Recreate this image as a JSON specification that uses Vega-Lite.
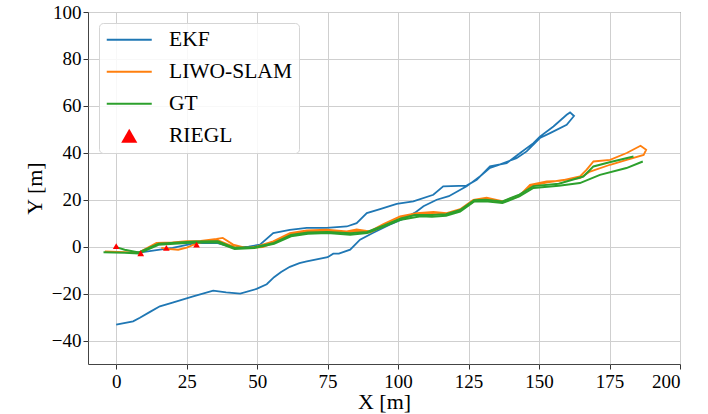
{
  "$schema": "https://vega.github.io/schema/vega-lite/v6.json",
  "width": 592,
  "height": 352,
  "autosize": {"type": "none"},
  "padding": {"left": 88, "top": 12, "right": 28, "bottom": 50},
  "background": "white",
  "config": {
    "font": "Liberation Serif",
    "view": {"stroke": "#444", "strokeWidth": 1},
    "axis": {
      "labelFont": "Liberation Serif", "labelFontSize": 19, "labelColor": "#000",
      "titleFont": "Liberation Serif", "titleFontSize": 22, "titleFontWeight": "normal", "titleColor": "#000",
      "gridColor": "#cfcfcf", "gridWidth": 1, "tickColor": "#333", "tickSize": 5, "domain": false
    },
    "legend": {"labelFont": "Liberation Serif"}
  },
  "datasets": {
    "paths": [
      {"s":"EKF","g":"e","i":0,"x":0,"y":-33.2},
      {"s":"EKF","g":"e","i":1,"x":6,"y":-31.8},
      {"s":"EKF","g":"e","i":2,"x":8.4,"y":-30.3},
      {"s":"EKF","g":"e","i":3,"x":12,"y":-27.8},
      {"s":"EKF","g":"e","i":4,"x":15.5,"y":-25.4},
      {"s":"EKF","g":"e","i":5,"x":20,"y":-23.8},
      {"s":"EKF","g":"e","i":6,"x":27,"y":-21.3},
      {"s":"EKF","g":"e","i":7,"x":34.4,"y":-18.7},
      {"s":"EKF","g":"e","i":8,"x":39,"y":-19.5},
      {"s":"EKF","g":"e","i":9,"x":44,"y":-20},
      {"s":"EKF","g":"e","i":10,"x":49.8,"y":-18},
      {"s":"EKF","g":"e","i":11,"x":53.4,"y":-16},
      {"s":"EKF","g":"e","i":12,"x":56,"y":-13},
      {"s":"EKF","g":"e","i":13,"x":58.5,"y":-10.8},
      {"s":"EKF","g":"e","i":14,"x":61.6,"y":-8.6},
      {"s":"EKF","g":"e","i":15,"x":65,"y":-7},
      {"s":"EKF","g":"e","i":16,"x":67.6,"y":-6.3},
      {"s":"EKF","g":"e","i":17,"x":75,"y":-4.5},
      {"s":"EKF","g":"e","i":18,"x":77,"y":-3},
      {"s":"EKF","g":"e","i":19,"x":79,"y":-3},
      {"s":"EKF","g":"e","i":20,"x":83,"y":-1.3},
      {"s":"EKF","g":"e","i":21,"x":86.5,"y":3},
      {"s":"EKF","g":"e","i":22,"x":91,"y":5.8},
      {"s":"EKF","g":"e","i":23,"x":97,"y":9.4},
      {"s":"EKF","g":"e","i":24,"x":103,"y":12.5},
      {"s":"EKF","g":"e","i":25,"x":106,"y":14.5},
      {"s":"EKF","g":"e","i":26,"x":109,"y":17.2},
      {"s":"EKF","g":"e","i":27,"x":113.7,"y":20},
      {"s":"EKF","g":"e","i":28,"x":118,"y":21.5},
      {"s":"EKF","g":"e","i":29,"x":124.3,"y":25.7},
      {"s":"EKF","g":"e","i":30,"x":129,"y":29.9},
      {"s":"EKF","g":"e","i":31,"x":132.6,"y":33.6},
      {"s":"EKF","g":"e","i":32,"x":136,"y":35},
      {"s":"EKF","g":"e","i":33,"x":142,"y":37.7},
      {"s":"EKF","g":"e","i":34,"x":145.6,"y":40.6},
      {"s":"EKF","g":"e","i":35,"x":150.3,"y":46.3},
      {"s":"EKF","g":"e","i":36,"x":153.9,"y":48.4},
      {"s":"EKF","g":"e","i":37,"x":159.8,"y":51.9},
      {"s":"EKF","g":"e","i":38,"x":162.4,"y":55.7},
      {"s":"EKF","g":"e","i":39,"x":161,"y":57.2},
      {"s":"EKF","g":"e","i":40,"x":159.8,"y":56.2},
      {"s":"EKF","g":"e","i":41,"x":155.1,"y":51.2},
      {"s":"EKF","g":"e","i":42,"x":150.3,"y":46.9},
      {"s":"EKF","g":"e","i":43,"x":148,"y":44.1},
      {"s":"EKF","g":"e","i":44,"x":143.3,"y":39.9},
      {"s":"EKF","g":"e","i":45,"x":138.5,"y":35.6},
      {"s":"EKF","g":"e","i":46,"x":132.6,"y":34.2},
      {"s":"EKF","g":"e","i":47,"x":127.9,"y":28.5},
      {"s":"EKF","g":"e","i":48,"x":124.3,"y":26},
      {"s":"EKF","g":"e","i":49,"x":116,"y":25.7},
      {"s":"EKF","g":"e","i":50,"x":112.5,"y":22.1},
      {"s":"EKF","g":"e","i":51,"x":105.4,"y":19.3},
      {"s":"EKF","g":"e","i":52,"x":99.5,"y":18.2},
      {"s":"EKF","g":"e","i":53,"x":93.6,"y":16},
      {"s":"EKF","g":"e","i":54,"x":88.9,"y":14.3},
      {"s":"EKF","g":"e","i":55,"x":85.3,"y":10},
      {"s":"EKF","g":"e","i":56,"x":81.8,"y":8.6},
      {"s":"EKF","g":"e","i":57,"x":74.7,"y":8},
      {"s":"EKF","g":"e","i":58,"x":67.6,"y":8},
      {"s":"EKF","g":"e","i":59,"x":61.6,"y":7.2},
      {"s":"EKF","g":"e","i":60,"x":55.7,"y":5.8},
      {"s":"EKF","g":"e","i":61,"x":51,"y":0.9},
      {"s":"EKF","g":"e","i":62,"x":47,"y":0},
      {"s":"EKF","g":"e","i":63,"x":42,"y":-0.5},
      {"s":"EKF","g":"e","i":64,"x":36,"y":1.5},
      {"s":"EKF","g":"e","i":65,"x":28,"y":1.5},
      {"s":"EKF","g":"e","i":66,"x":20,"y":-0.5},
      {"s":"EKF","g":"e","i":67,"x":15.5,"y":-1.3},
      {"s":"EKF","g":"e","i":68,"x":10,"y":-2.2},
      {"s":"EKF","g":"e","i":69,"x":6,"y":-2.4},

      {"s":"LIWO-SLAM","g":"o","i":0,"x":-4,"y":-2},
      {"s":"LIWO-SLAM","g":"o","i":1,"x":3,"y":-2.3},
      {"s":"LIWO-SLAM","g":"o","i":2,"x":8,"y":-2.5},
      {"s":"LIWO-SLAM","g":"o","i":3,"x":14.3,"y":1.6},
      {"s":"LIWO-SLAM","g":"o","i":4,"x":20,"y":1.8},
      {"s":"LIWO-SLAM","g":"o","i":5,"x":25,"y":2.3},
      {"s":"LIWO-SLAM","g":"o","i":6,"x":30,"y":2.5},
      {"s":"LIWO-SLAM","g":"o","i":7,"x":35.6,"y":3.3},
      {"s":"LIWO-SLAM","g":"o","i":8,"x":37.8,"y":3.7},
      {"s":"LIWO-SLAM","g":"o","i":9,"x":41.5,"y":0.9},
      {"s":"LIWO-SLAM","g":"o","i":10,"x":46.3,"y":-0.6},
      {"s":"LIWO-SLAM","g":"o","i":11,"x":50,"y":0.1},
      {"s":"LIWO-SLAM","g":"o","i":12,"x":55.7,"y":2.3},
      {"s":"LIWO-SLAM","g":"o","i":13,"x":61.6,"y":5.8},
      {"s":"LIWO-SLAM","g":"o","i":14,"x":67.6,"y":6.9},
      {"s":"LIWO-SLAM","g":"o","i":15,"x":74.7,"y":7.2},
      {"s":"LIWO-SLAM","g":"o","i":16,"x":81.8,"y":6.5},
      {"s":"LIWO-SLAM","g":"o","i":17,"x":85.3,"y":7.4},
      {"s":"LIWO-SLAM","g":"o","i":18,"x":90,"y":6.5},
      {"s":"LIWO-SLAM","g":"o","i":19,"x":94.8,"y":9.6},
      {"s":"LIWO-SLAM","g":"o","i":20,"x":100.7,"y":12.9},
      {"s":"LIWO-SLAM","g":"o","i":21,"x":106.6,"y":14.3},
      {"s":"LIWO-SLAM","g":"o","i":22,"x":112.5,"y":14.8},
      {"s":"LIWO-SLAM","g":"o","i":23,"x":117.2,"y":14.3},
      {"s":"LIWO-SLAM","g":"o","i":24,"x":122,"y":16},
      {"s":"LIWO-SLAM","g":"o","i":25,"x":126.7,"y":20},
      {"s":"LIWO-SLAM","g":"o","i":26,"x":131.4,"y":20.9},
      {"s":"LIWO-SLAM","g":"o","i":27,"x":137.3,"y":19.3},
      {"s":"LIWO-SLAM","g":"o","i":28,"x":143.3,"y":22.1},
      {"s":"LIWO-SLAM","g":"o","i":29,"x":146.8,"y":26.4},
      {"s":"LIWO-SLAM","g":"o","i":30,"x":152.7,"y":27.8},
      {"s":"LIWO-SLAM","g":"o","i":31,"x":157.4,"y":28},
      {"s":"LIWO-SLAM","g":"o","i":32,"x":164.5,"y":29.9},
      {"s":"LIWO-SLAM","g":"o","i":33,"x":166.9,"y":32.8},
      {"s":"LIWO-SLAM","g":"o","i":34,"x":169.3,"y":36.3},
      {"s":"LIWO-SLAM","g":"o","i":35,"x":175.2,"y":37},
      {"s":"LIWO-SLAM","g":"o","i":36,"x":181.1,"y":39.9},
      {"s":"LIWO-SLAM","g":"o","i":37,"x":186,"y":43},
      {"s":"LIWO-SLAM","g":"o","i":38,"x":188,"y":41.3},
      {"s":"LIWO-SLAM","g":"o","i":39,"x":187.1,"y":39.1},
      {"s":"LIWO-SLAM","g":"o","i":40,"x":181.1,"y":37},
      {"s":"LIWO-SLAM","g":"o","i":41,"x":175.2,"y":34.9},
      {"s":"LIWO-SLAM","g":"o","i":42,"x":168.1,"y":32},
      {"s":"LIWO-SLAM","g":"o","i":43,"x":164.5,"y":29.2},
      {"s":"LIWO-SLAM","g":"o","i":44,"x":158,"y":28.3},
      {"s":"LIWO-SLAM","g":"o","i":45,"x":153,"y":27.4},
      {"s":"LIWO-SLAM","g":"o","i":46,"x":147,"y":25.8},
      {"s":"LIWO-SLAM","g":"o","i":47,"x":143,"y":21.6},
      {"s":"LIWO-SLAM","g":"o","i":48,"x":137,"y":18.8},
      {"s":"LIWO-SLAM","g":"o","i":49,"x":131,"y":20.2},
      {"s":"LIWO-SLAM","g":"o","i":50,"x":127,"y":19.4},
      {"s":"LIWO-SLAM","g":"o","i":51,"x":122,"y":15.3},
      {"s":"LIWO-SLAM","g":"o","i":52,"x":117,"y":13.8},
      {"s":"LIWO-SLAM","g":"o","i":53,"x":112,"y":14},
      {"s":"LIWO-SLAM","g":"o","i":54,"x":106,"y":13.7},
      {"s":"LIWO-SLAM","g":"o","i":55,"x":101,"y":12.2},
      {"s":"LIWO-SLAM","g":"o","i":56,"x":95,"y":8.8},
      {"s":"LIWO-SLAM","g":"o","i":57,"x":90,"y":6},
      {"s":"LIWO-SLAM","g":"o","i":58,"x":85,"y":6.6},
      {"s":"LIWO-SLAM","g":"o","i":59,"x":82,"y":6},
      {"s":"LIWO-SLAM","g":"o","i":60,"x":75,"y":6.7},
      {"s":"LIWO-SLAM","g":"o","i":61,"x":68,"y":6.3},
      {"s":"LIWO-SLAM","g":"o","i":62,"x":62,"y":5.2},
      {"s":"LIWO-SLAM","g":"o","i":63,"x":56,"y":1.7},
      {"s":"LIWO-SLAM","g":"o","i":64,"x":52,"y":-0.2},
      {"s":"LIWO-SLAM","g":"o","i":65,"x":48,"y":-0.4},
      {"s":"LIWO-SLAM","g":"o","i":66,"x":42,"y":-0.2},
      {"s":"LIWO-SLAM","g":"o","i":67,"x":36,"y":2.8},
      {"s":"LIWO-SLAM","g":"o","i":68,"x":30,"y":1.8},
      {"s":"LIWO-SLAM","g":"o","i":69,"x":27.5,"y":0.9},
      {"s":"LIWO-SLAM","g":"o","i":70,"x":25,"y":-0.4},
      {"s":"LIWO-SLAM","g":"o","i":71,"x":22,"y":-1.3},
      {"s":"LIWO-SLAM","g":"o","i":72,"x":19,"y":-1},
      {"s":"LIWO-SLAM","g":"o","i":73,"x":16,"y":-0.5},

      {"s":"GT","g":"gA","i":0,"x":-4.5,"y":-2.4},
      {"s":"GT","g":"gA","i":1,"x":3,"y":-2.6},
      {"s":"GT","g":"gA","i":2,"x":8,"y":-2.9},
      {"s":"GT","g":"gA","i":3,"x":15,"y":0.8},
      {"s":"GT","g":"gA","i":4,"x":22,"y":1.4},
      {"s":"GT","g":"gA","i":5,"x":28,"y":1.8},
      {"s":"GT","g":"gA","i":6,"x":36,"y":1.8},
      {"s":"GT","g":"gA","i":7,"x":42,"y":-1},
      {"s":"GT","g":"gA","i":8,"x":49,"y":-0.6},
      {"s":"GT","g":"gA","i":9,"x":56,"y":1.2},
      {"s":"GT","g":"gA","i":10,"x":62,"y":4.4},
      {"s":"GT","g":"gA","i":11,"x":68,"y":5.5},
      {"s":"GT","g":"gA","i":12,"x":75,"y":5.8},
      {"s":"GT","g":"gA","i":13,"x":83,"y":5.1},
      {"s":"GT","g":"gA","i":14,"x":89,"y":5.8},
      {"s":"GT","g":"gA","i":15,"x":95,"y":8.6},
      {"s":"GT","g":"gA","i":16,"x":101,"y":11.5},
      {"s":"GT","g":"gA","i":17,"x":108,"y":13},
      {"s":"GT","g":"gA","i":18,"x":112,"y":12.7},
      {"s":"GT","g":"gA","i":19,"x":117,"y":13.2},
      {"s":"GT","g":"gA","i":20,"x":122,"y":15},
      {"s":"GT","g":"gA","i":21,"x":127,"y":19.3},
      {"s":"GT","g":"gA","i":22,"x":131,"y":19.3},
      {"s":"GT","g":"gA","i":23,"x":137,"y":18.6},
      {"s":"GT","g":"gA","i":24,"x":143,"y":21.4},
      {"s":"GT","g":"gA","i":25,"x":148,"y":25},
      {"s":"GT","g":"gA","i":26,"x":157,"y":26},
      {"s":"GT","g":"gA","i":27,"x":164.5,"y":27.1},
      {"s":"GT","g":"gA","i":28,"x":171.6,"y":30.6},
      {"s":"GT","g":"gA","i":29,"x":181,"y":33.5},
      {"s":"GT","g":"gA","i":30,"x":186.8,"y":36.3},

      {"s":"GT","g":"gB","i":0,"x":183.5,"y":38.4},
      {"s":"GT","g":"gB","i":1,"x":175,"y":36},
      {"s":"GT","g":"gB","i":2,"x":169.3,"y":34.2},
      {"s":"GT","g":"gB","i":3,"x":165.7,"y":29.9},
      {"s":"GT","g":"gB","i":4,"x":157,"y":26.8},
      {"s":"GT","g":"gB","i":5,"x":148,"y":25.8},
      {"s":"GT","g":"gB","i":6,"x":143,"y":22.2},
      {"s":"GT","g":"gB","i":7,"x":137,"y":19.3},
      {"s":"GT","g":"gB","i":8,"x":131,"y":20},
      {"s":"GT","g":"gB","i":9,"x":127,"y":19.8},
      {"s":"GT","g":"gB","i":10,"x":122,"y":15.6},
      {"s":"GT","g":"gB","i":11,"x":117,"y":13.8},
      {"s":"GT","g":"gB","i":12,"x":112,"y":13.5},
      {"s":"GT","g":"gB","i":13,"x":106,"y":13.5},
      {"s":"GT","g":"gB","i":14,"x":101,"y":12},
      {"s":"GT","g":"gB","i":15,"x":95,"y":9},
      {"s":"GT","g":"gB","i":16,"x":89,"y":6.3},
      {"s":"GT","g":"gB","i":17,"x":83,"y":5.7},
      {"s":"GT","g":"gB","i":18,"x":75,"y":6.3},
      {"s":"GT","g":"gB","i":19,"x":68,"y":6},
      {"s":"GT","g":"gB","i":20,"x":62,"y":5},
      {"s":"GT","g":"gB","i":21,"x":56,"y":1.6},
      {"s":"GT","g":"gB","i":22,"x":49,"y":-0.2},
      {"s":"GT","g":"gB","i":23,"x":42,"y":-0.5},
      {"s":"GT","g":"gB","i":24,"x":36,"y":2.3},
      {"s":"GT","g":"gB","i":25,"x":28,"y":2.2},
      {"s":"GT","g":"gB","i":26,"x":15,"y":1.3},
      {"s":"GT","g":"gB","i":27,"x":8,"y":-2.5},
      {"s":"GT","g":"gB","i":28,"x":3,"y":-1.3},
      {"s":"GT","g":"gB","i":29,"x":0,"y":-0.2}
    ],
    "riegl": [
      {"s":"RIEGL","x":0,"y":0.2},
      {"s":"RIEGL","x":8.7,"y":-2.8},
      {"s":"RIEGL","x":17.8,"y":-0.5},
      {"s":"RIEGL","x":28.5,"y":0.9}
    ]
  },
  "encoding": {
    "x": {"field": "x", "type": "quantitative",
      "scale": {"domain": [-10, 200], "nice": false, "zero": false},
      "axis": {"title": "X [m]", "values": [0,25,50,75,100,125,150,175,200], "labelFont": "Liberation Serif", "labelFontSize": 19, "labelPadding": 3, "titlePadding": 0, "grid": true}},
    "y": {"field": "y", "type": "quantitative",
      "scale": {"domain": [-50, 100], "nice": false, "zero": false},
      "axis": {"title": "Y [m]", "values": [-40,-20,0,20,40,60,80,100], "labelFont": "Liberation Serif", "labelFontSize": 19, "labelPadding": 2, "titlePadding": 5, "grid": true}},
    "color": {"field": "s", "type": "nominal",
      "scale": {"domain": ["EKF","LIWO-SLAM","GT","RIEGL"], "range": ["#1f77b4","#ff7f0e","#2ca02c","#ff0000"]},
      "legend": {
        "title": null, "orient": "none", "legendX": 11, "legendY": 11,
        "labelFont": "Liberation Serif", "labelFontSize": 21.5, "labelColor": "#000",
        "fillColor": "rgba(255,255,255,0.85)", "strokeColor": "#d5d5d5", "cornerRadius": 4, "padding": 6,
        "symbolType": "stroke", "symbolSize": 2025, "symbolStrokeWidth": 2,
        "symbolOffset": 13.5, "labelOffset": 29, "rowPadding": 9,
        "encode": {"symbols": {"update": {
          "shape": {"signal": "datum.value === 'RIEGL' ? 'triangle-up' : 'stroke'"},
          "size": {"signal": "datum.value === 'RIEGL' ? 260 : 2025"},
          "fill": {"signal": "datum.value === 'RIEGL' ? '#ff0000' : 'transparent'"},
          "strokeWidth": {"signal": "datum.value === 'RIEGL' ? 0 : 2"}
        }}}
      }}
  },
  "layer": [
    {"data": {"name": "paths"}, "transform": [{"filter": "datum.s === 'EKF'"}],
     "mark": {"type": "line", "strokeWidth": 1.8},
     "encoding": {"detail": {"field": "g"}, "order": {"field": "i", "type": "quantitative"}}},
    {"data": {"name": "paths"}, "transform": [{"filter": "datum.s === 'LIWO-SLAM'"}],
     "mark": {"type": "line", "strokeWidth": 1.8},
     "encoding": {"detail": {"field": "g"}, "order": {"field": "i", "type": "quantitative"}}},
    {"data": {"name": "paths"}, "transform": [{"filter": "datum.s === 'GT'"}],
     "mark": {"type": "line", "strokeWidth": 2},
     "encoding": {"detail": {"field": "g"}, "order": {"field": "i", "type": "quantitative"}}},
    {"data": {"name": "riegl"},
     "mark": {"type": "point", "shape": "triangle-up", "filled": true, "size": 45, "opacity": 1}}
  ]
}
